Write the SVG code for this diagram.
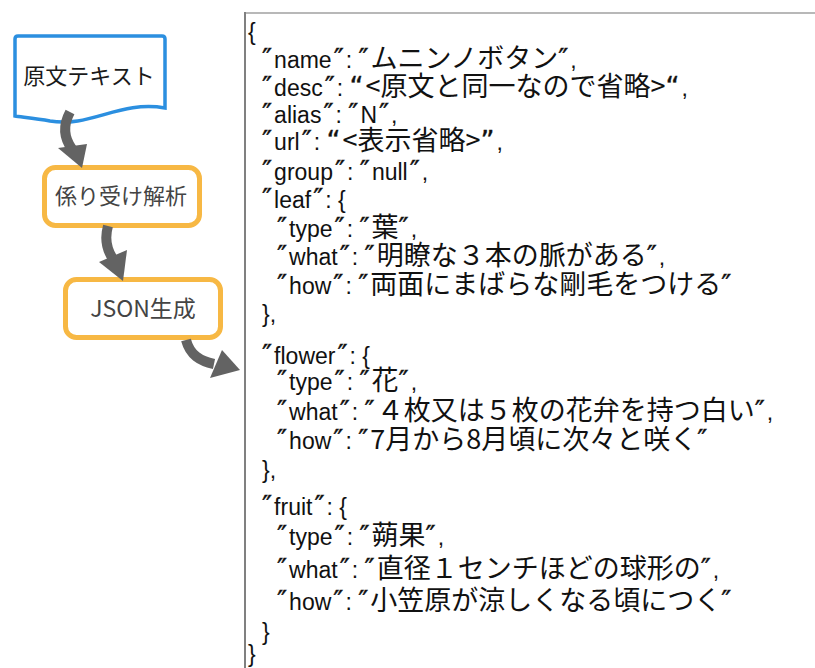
<svg xmlns="http://www.w3.org/2000/svg" width="815" height="668" viewBox="0 0 815 668">
<style>
.t{font-family:"Liberation Sans","DejaVu Sans",sans-serif;font-size:23px;fill:#111}
.j{font-family:"Noto Sans CJK JP",sans-serif;font-size:27px}
.q{font-family:"DejaVu Sans",sans-serif;font-size:27px;letter-spacing:2px;stroke:#111;stroke-width:0.4}
.lbl{font-family:"Noto Sans CJK JP",sans-serif;font-size:22px;text-anchor:middle}
.arrow{fill:none;stroke:#636363;stroke-width:10}
.head{fill:#636363}
.proc{fill:#fff;stroke:#f7b844;stroke-width:5}
</style>
<rect width="815" height="668" fill="#fff"/>
<g id="source">
<path d="M15,39 Q15,36 18,36 L162,36 Q165,36 165,39 L165,108 C120,100 90,128 50,121 C35,118 20,117 15,116 Z" fill="#fff" stroke="#2b8fe0" stroke-width="3.5"/>
<text class="lbl" x="89" y="84" fill="#1a1a1a">原文テキスト</text>
</g>
<g id="parse">
<rect class="proc" x="44.5" y="167.5" width="155" height="58" rx="11"/>
<text class="lbl" x="121" y="204" fill="#444">係り受け解析</text>
</g>
<g id="jsongen">
<rect class="proc" x="65.5" y="279.5" width="155" height="58" rx="11"/>
<text class="lbl" x="143" y="317" fill="#444" style="font-size:23px">JSON生成</text>
</g>
<g id="connectors">
<path class="arrow" d="M70,112 C63,125 64,138 72,149"/>
<polygon class="head" points="58,148 87,144 82,168"/>
<path class="arrow" d="M108,226 C104,240 107,250 113,259"/>
<polygon class="head" points="99,262 127,250 123,281"/>
<path class="arrow" d="M186,340 C190,355 200,361 214,364"/>
<polygon class="head" points="222,350 240,370 210,378"/>
</g>
<g id="json">
<line x1="244" y1="13" x2="815" y2="13" stroke="#b8b8b8" stroke-width="2"/>
<line x1="245" y1="12" x2="245" y2="668" stroke="#808080" stroke-width="2"/>
<text class="t" x="248" y="40">{</text>
<text class="t" x="262" y="68"><tspan class="q">″</tspan>name<tspan class="q" dx="2">″</tspan>: <tspan class="q">″</tspan><tspan class="j">ムニンノボタン</tspan><tspan class="q">″</tspan>,</text>
<text class="t" x="262" y="96"><tspan class="q">″</tspan>desc<tspan class="q" dx="2">″</tspan>: <tspan class="q">“</tspan><tspan class="j">&lt;原文と同一なので省略&gt;</tspan><tspan class="q">“</tspan>,</text>
<text class="t" x="262" y="123"><tspan class="q">″</tspan>alias<tspan class="q" dx="2">″</tspan>: <tspan class="q">″</tspan>N<tspan class="q" dx="2">″</tspan>,</text>
<text class="t" x="262" y="150"><tspan class="q">″</tspan>url<tspan class="q" dx="2">″</tspan>: <tspan class="q">“</tspan><tspan class="j">&lt;表示省略&gt;</tspan><tspan class="q">”</tspan>,</text>
<text class="t" x="262" y="180"><tspan class="q">″</tspan>group<tspan class="q" dx="2">″</tspan>: <tspan class="q">″</tspan>null<tspan class="q" dx="2">″</tspan>,</text>
<text class="t" x="262" y="208"><tspan class="q">″</tspan>leaf<tspan class="q" dx="2">″</tspan>: {</text>
<text class="t" x="277" y="237"><tspan class="q">″</tspan>type<tspan class="q" dx="2">″</tspan>: <tspan class="q">″</tspan><tspan class="j">葉</tspan><tspan class="q">″</tspan>,</text>
<text class="t" x="277" y="265"><tspan class="q">″</tspan>what<tspan class="q" dx="2">″</tspan>: <tspan class="q">″</tspan><tspan class="j">明瞭な３本の脈がある</tspan><tspan class="q">″</tspan>,</text>
<text class="t" x="277" y="294"><tspan class="q">″</tspan>how<tspan class="q" dx="2">″</tspan>: <tspan class="q">″</tspan><tspan class="j">両面にまばらな剛毛をつける</tspan><tspan class="q">″</tspan></text>
<text class="t" x="262" y="322">},</text>
<text class="t" x="262" y="364"><tspan class="q">″</tspan>flower<tspan class="q" dx="2">″</tspan>: {</text>
<text class="t" x="277" y="390"><tspan class="q">″</tspan>type<tspan class="q" dx="2">″</tspan>: <tspan class="q">″</tspan><tspan class="j">花</tspan><tspan class="q">″</tspan>,</text>
<text class="t" x="277" y="420"><tspan class="q">″</tspan>what<tspan class="q" dx="2">″</tspan>: <tspan class="q">″</tspan><tspan class="j">４枚又は５枚の花弁を持つ白い</tspan><tspan class="q">″</tspan>,</text>
<text class="t" x="277" y="449"><tspan class="q">″</tspan>how<tspan class="q" dx="2">″</tspan>: <tspan class="q">″</tspan><tspan class="j">7月から8月頃に次々と咲く</tspan><tspan class="q">″</tspan></text>
<text class="t" x="262" y="478">},</text>
<text class="t" x="262" y="515"><tspan class="q">″</tspan>fruit<tspan class="q" dx="2">″</tspan>: {</text>
<text class="t" x="277" y="545"><tspan class="q">″</tspan>type<tspan class="q" dx="2">″</tspan>: <tspan class="q">″</tspan><tspan class="j">蒴果</tspan><tspan class="q">″</tspan>,</text>
<text class="t" x="277" y="578"><tspan class="q">″</tspan>what<tspan class="q" dx="2">″</tspan>: <tspan class="q">″</tspan><tspan class="j">直径１センチほどの球形の</tspan><tspan class="q">″</tspan>,</text>
<text class="t" x="277" y="610"><tspan class="q">″</tspan>how<tspan class="q" dx="2">″</tspan>: <tspan class="q">″</tspan><tspan class="j">小笠原が涼しくなる頃につく</tspan><tspan class="q">″</tspan></text>
<text class="t" x="262" y="640">}</text>
<text class="t" x="248" y="662">}</text>
</g>
</svg>
